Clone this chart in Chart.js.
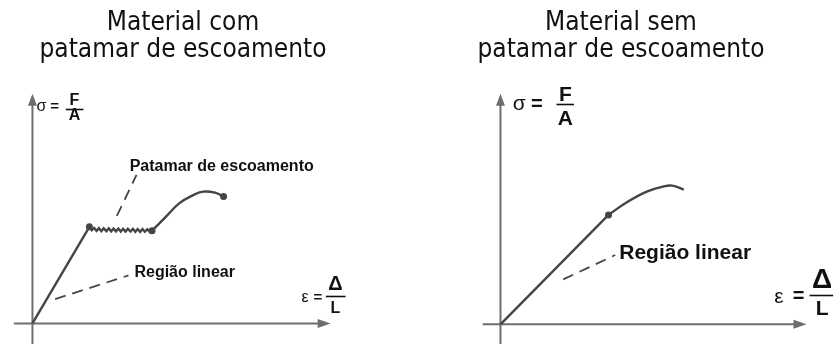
<!DOCTYPE html>
<html>
<head>
<meta charset="utf-8">
<script src="https://cdn.jsdelivr.net/npm/chart.js@4.4.1/dist/chart.umd.min.js"></script>
<style>
  body { margin: 0; background: #fff; width: 837px; height: 344px; overflow: hidden; position: relative; }
  .box { position: absolute; top: 0; height: 344px; }
  .title { position: absolute; top: 8px; width: 360px; text-align: center; color: #111;
           font-family: "DejaVu Sans Condensed", "DejaVu Sans", sans-serif; font-size: 26px; line-height: 27px; }
</style>
</head>
<body>
<div class="box" style="left:0;width:418px"><canvas id="chartCom" width="418" height="344"></canvas></div>
<div class="box" style="left:418px;width:419px"><canvas id="chartSem" width="419" height="344"></canvas></div>
<div class="title" style="left:3px">Material com<br>patamar de escoamento</div>
<div class="title" style="left:441px">Material sem<br>patamar de escoamento</div>
<script>
// material com patamar: strain (x) / stress (y), 100 = end of axis
const comLinearX = [0, 19.1];
const comLinearY = [0, 42.1];
const comPlateauX = [19.1, 19.9, 20.7, 21.5, 22.3, 23.1, 23.9, 24.8, 25.6, 26.4, 27.2, 28.0, 28.8, 29.6,
                     30.4, 31.2, 32.0, 32.9, 33.7, 34.5, 35.3, 36.1, 36.9, 37.7, 38.5, 39.3, 40.1];
const comPlateauY = [42.1, 40.6, 41.6, 40.3, 41.5, 40.2, 41.4, 40.2, 41.4, 40.1, 41.3, 40.1, 41.3, 40.0,
                     41.2, 40.0, 41.2, 40.0, 41.2, 39.9, 41.1, 39.9, 41.1, 39.9, 41.0, 39.9, 40.4];
const comHardenX = [40.1, 44.7, 49.2, 53.6, 57.2, 61.2, 64.1];
const comHardenY = [40.4, 46.4, 52.3, 55.7, 57.4, 57.0, 55.3];
const comDotsX = [19.1, 40.1, 64.1];
const comDotsY = [42.1, 40.4, 55.3];

// material sem patamar
const semLinearX = [0, 35.3];
const semLinearY = [0, 47.5];
const semCurveX = [35.3, 41.3, 47.8, 52.9, 56.1, 59.9];
const semCurveY = [47.5, 53.0, 57.6, 59.7, 60.2, 58.5];
const semDotsX = [35.3];
const semDotsY = [47.5];

const labelPatamar = 'Patamar de escoamento';
const labelLinear = 'Região linear';

const pts = (xs, ys) => xs.map((v, i) => ({ x: v, y: ys[i] }));
const ink = '#454545';
const axisInk = '#6e6e6e';

function curve(xs, ys, tension) {
  return { data: pts(xs, ys), showLine: true, borderColor: ink, borderWidth: 2.4,
           pointRadius: 0, tension: tension || 0, fill: false };
}
function leader(xs, ys) {
  return { data: pts(xs, ys), showLine: true, borderColor: ink, borderWidth: 1.8,
           borderDash: [11, 7], pointRadius: 0, fill: false };
}
function dots(xs, ys) {
  return { data: pts(xs, ys), showLine: false, pointRadius: 3.5, pointBackgroundColor: ink,
           pointBorderColor: ink, pointBorderWidth: 0 };
}

const sketch = {
  id: 'sketch',
  beforeDatasetsDraw(chart, args, o) {
    const { ctx, scales: { x, y } } = chart;
    const x0 = x.getPixelForValue(0), y0 = y.getPixelForValue(0);
    const yTip = y.getPixelForValue(100), xTip = x.getPixelForValue(100);
    ctx.save();
    ctx.strokeStyle = axisInk; ctx.fillStyle = axisInk; ctx.lineWidth = 2;
    ctx.beginPath(); ctx.moveTo(x0, chart.height); ctx.lineTo(x0, yTip + 8); ctx.stroke();
    ctx.beginPath(); ctx.moveTo(x0, yTip); ctx.lineTo(x0 - 4.5, yTip + 12); ctx.lineTo(x0 + 4.5, yTip + 12); ctx.closePath(); ctx.fill();
    ctx.beginPath(); ctx.moveTo(x.getPixelForValue(o.xStart), y0); ctx.lineTo(xTip - 8, y0); ctx.stroke();
    ctx.beginPath(); ctx.moveTo(xTip, y0); ctx.lineTo(xTip - 13, y0 - 4.5); ctx.lineTo(xTip - 13, y0 + 4.5); ctx.closePath(); ctx.fill();
    ctx.restore();
  },
  afterDatasetsDraw(chart, args, o) {
    const { ctx, scales: { x, y } } = chart;
    ctx.save();
    ctx.fillStyle = '#111';
    o.texts.forEach(t => {
      ctx.font = t.font;
      ctx.textAlign = t.align || 'center';
      ctx.textBaseline = t.base || 'middle';
      ctx.fillText(t.text, x.getPixelForValue(t.x), y.getPixelForValue(t.y));
    });
    ctx.strokeStyle = '#111'; ctx.lineWidth = 1.6;
    o.bars.forEach(b => {
      const py = Math.round(y.getPixelForValue(b[2])) + 0.5;
      ctx.beginPath(); ctx.moveTo(x.getPixelForValue(b[0]), py); ctx.lineTo(x.getPixelForValue(b[1]), py); ctx.stroke();
    });
    ctx.restore();
  }
};

function makeChart(id, datasets, xr, yr, opts) {
  return new Chart(document.getElementById(id), {
    type: 'scatter',
    data: { datasets },
    plugins: [sketch],
    options: {
      responsive: false, animation: false, devicePixelRatio: 1,
      layout: { padding: 0 },
      scales: {
        x: { type: 'linear', display: false, min: xr[0], max: xr[1] },
        y: { type: 'linear', display: false, min: yr[0], max: yr[1] }
      },
      plugins: { legend: { display: false }, tooltip: { enabled: false }, sketch: opts }
    }
  });
}

const F = '"Liberation Sans", Arial, sans-serif';

makeChart('chartCom', [
  curve(comLinearX, comLinearY),
  curve(comPlateauX, comPlateauY),
  curve(comHardenX, comHardenY, 0.4),
  dots(comDotsX, comDotsY),
  leader([28.3, 34.9], [46.8, 64.7]),
  leader([7.6, 32.2], [10.6, 20.9])
], [-9.54, 127.96], [-7.23, 139.15], {
  xStart: -6.25,
  texts: [
    { text: labelPatamar, x: 32.6, y: 66.4, font: 'bold 16px ' + F, align: 'left', base: 'alphabetic' },
    { text: labelLinear, x: 34.2, y: 20.0, font: 'bold 16px ' + F, align: 'left', base: 'alphabetic' },
    { text: 'σ', x: 3.0, y: 94.6, font: '16px ' + F },
    { text: '=', x: 7.4, y: 94.4, font: 'bold 15px ' + F },
    { text: 'F', x: 14.1, y: 97.0, font: 'bold 16px ' + F },
    { text: 'A', x: 14.1, y: 90.4, font: 'bold 16px ' + F },
    { text: 'ε', x: 91.4, y: 11.1, font: '16px ' + F },
    { text: '=', x: 95.7, y: 11.3, font: 'bold 15px ' + F },
    { text: 'Δ', x: 101.6, y: 16.8, font: 'bold 20px ' + F },
    { text: 'L', x: 101.6, y: 6.6, font: 'bold 16px ' + F }
  ],
  bars: [[11.2, 17.1, 93.6], [98.4, 105.0, 11.9]]
});

makeChart('chartSem', [
  curve(semLinearX, semLinearY),
  curve(semCurveX, semCurveY, 0.4),
  dots(semDotsX, semDotsY),
  leader([20.5, 37.5], [19.5, 30.1])
], [-25.64, 108.65], [-6.78, 138.98], {
  xStart: -5.8,
  texts: [
    { text: labelLinear, x: 38.8, y: 28.4, font: 'bold 21px ' + F, align: 'left', base: 'alphabetic' },
    { text: 'σ', x: 6.1, y: 95.3, font: '21px ' + F },
    { text: '=', x: 11.9, y: 95.3, font: 'bold 20px ' + F },
    { text: 'F', x: 21.2, y: 99.2, font: 'bold 21px ' + F },
    { text: 'A', x: 21.2, y: 89.0, font: 'bold 21px ' + F },
    { text: 'ε', x: 91.0, y: 11.9, font: '21px ' + F },
    { text: '=', x: 97.4, y: 12.1, font: 'bold 20px ' + F },
    { text: 'Δ', x: 105.1, y: 19.1, font: 'bold 28px ' + F },
    { text: 'L', x: 105.1, y: 6.6, font: 'bold 21px ' + F }
  ],
  bars: [[18.3, 24.0, 95.8], [101.0, 108.7, 12.7]]
});
</script>
</body>
</html>
